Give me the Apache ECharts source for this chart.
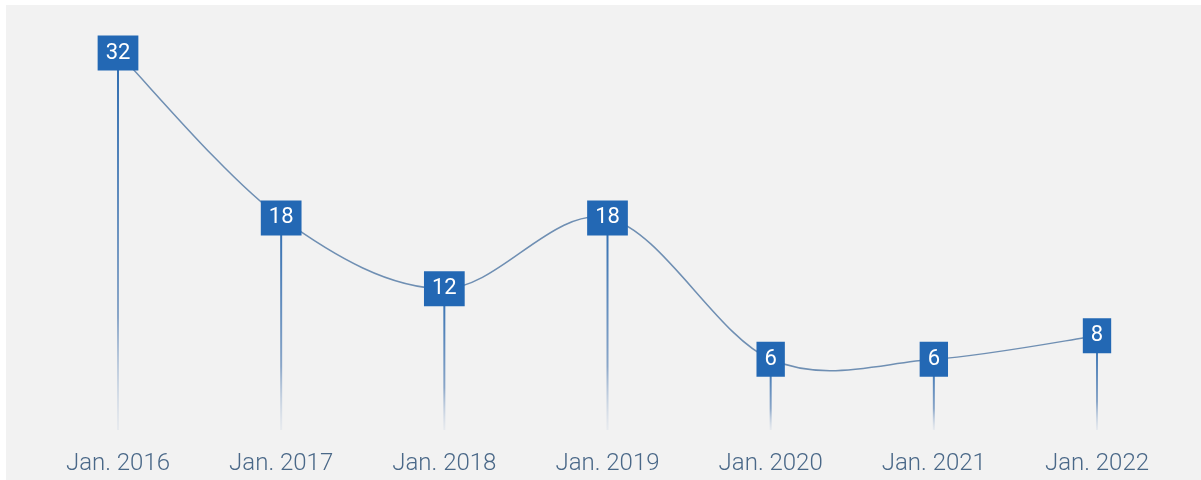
<!DOCTYPE html>
<html>
<head>
<meta charset="utf-8">
<script src="https://cdn.jsdelivr.net/npm/echarts@6/dist/echarts.min.js"></script>
<style>
  html, body { margin: 0; padding: 0; background: #ffffff; }
  #chart { position: absolute; left: 6px; top: 5px; width: 1195px; height: 475px; background: #f2f2f2; }
</style>
</head>
<body>
<div id="chart"></div>
<script>
// values
var categories = ['Jan. 2016', 'Jan. 2017', 'Jan. 2018', 'Jan. 2019', 'Jan. 2020', 'Jan. 2021', 'Jan. 2022'];
var counts = [32, 18, 12, 18, 6, 6, 8];

var myChart = echarts.init(document.getElementById('chart'));

// catmull-rom curve, one bezier piece per segment
function renderCurve(params, api) {
    var i = params.dataIndex;
    var n = counts.length;
    if (i >= n - 1) return null;
    var i0 = Math.max(i - 1, 0), i3 = Math.min(i + 2, n - 1);
    var p0 = api.coord([i0, counts[i0]]);
    var p1 = api.coord([i, counts[i]]);
    var p2 = api.coord([i + 1, counts[i + 1]]);
    var p3 = api.coord([i3, counts[i3]]);
    return {
        type: 'bezierCurve',
        shape: {
            x1: p1[0], y1: p1[1],
            x2: p2[0], y2: p2[1],
            cpx1: p1[0] + (p2[0] - p0[0]) / 6,
            cpy1: p1[1] + (p2[1] - p0[1]) / 6,
            cpx2: p2[0] - (p3[0] - p1[0]) / 6,
            cpy2: p2[1] - (p3[1] - p1[1]) / 6
        },
        style: { stroke: '#6f8fb3', lineWidth: 1.5, fill: null }
    };
}

var option = {
    backgroundColor: '#f2f2f2',
    grid: {
        left: 112,
        right: 104,
        top: 48,
        bottom: 50
    },
    xAxis: {
        type: 'category',
        boundaryGap: false,
        data: categories,
        axisLine: { show: false },
        axisTick: { show: false },
        axisLabel: {
            margin: 22,
            color: '#4a6888',
            fontFamily: 'Roboto',
            fontWeight: 300,
            fontSize: 24
        }
    },
    yAxis: {
        type: 'value',
        min: 0,
        max: 32,
        show: false,
        splitLine: { show: false }
    },
    series: [
        {
            // stems under each box
            type: 'bar',
            data: counts,
            barWidth: 2,
            silent: true,
            z: 1,
            itemStyle: {
                color: new echarts.graphic.LinearGradient(0, 0, 0, 1, [
                    { offset: 0, color: '#2c6bb0' },
                    { offset: 0.7, color: '#8aa6c8' },
                    { offset: 1, color: 'rgba(215,222,232,0.4)' }
                ])
            }
        },
        {
            type: 'custom',
            data: counts.map(function (v, i) { return [i, v]; }),
            encode: { x: 0, y: 1 },
            renderItem: renderCurve,
            silent: true,
            z: 2
        },
        {
            type: 'line',
            data: counts,
            z: 3,
            symbol: 'rect',
            symbolSize: 2,
            lineStyle: { opacity: 0 },
            itemStyle: { color: '#2368b4' },
            label: {
                show: true,
                position: 'inside',
                color: '#ffffff',
                fontFamily: 'Roboto',
                fontWeight: 400,
                fontSize: 22,
                lineHeight: 21,
                backgroundColor: '#2368b4',
                padding: [7, 8]
            }
        }
    ]
};
myChart.setOption(option);
</script>
</body>
</html>
